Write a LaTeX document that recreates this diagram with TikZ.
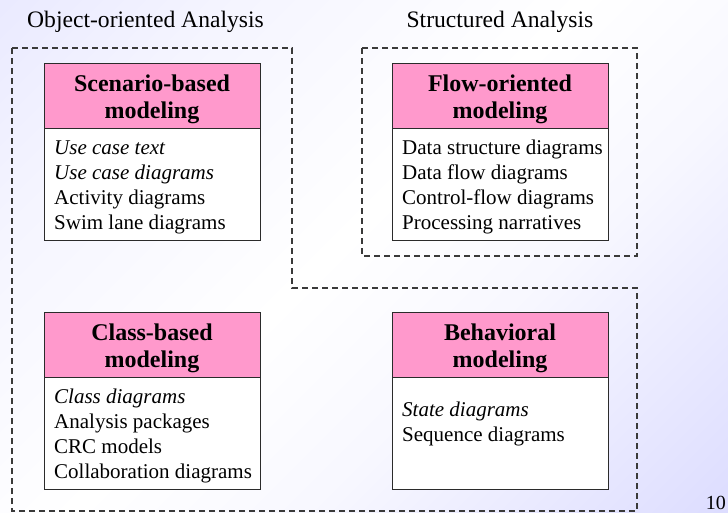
\documentclass[tikz,border=0pt]{standalone}
\usepackage{fontspec}
\setmainfont{Liberation Serif}

\definecolor{hdpink}{HTML}{FF99CC}
\definecolor{boxline}{HTML}{2B2B2B}
\definecolor{groupgray}{HTML}{3A3A3A}

% soft diagonal slide background: lavender corners, white middle band
\pgfdeclarehorizontalshading{slidebg}{100bp}{%
  rgb(0bp)=(0.87,0.87,1); rgb(28bp)=(0.96,0.96,1); rgb(48bp)=(1,1,1);
  rgb(62bp)=(0.97,0.97,1); rgb(100bp)=(0.80,0.80,1)}

\tikzset{
  hdbox/.style={draw=boxline, line width=1.4pt, fill=hdpink,
    minimum width=216pt, minimum height=64.5pt, inner sep=0pt, anchor=north west},
  bdbox/.style={draw=boxline, line width=1.4pt, fill=white,
    minimum width=216pt, minimum height=112pt, inner sep=0pt, anchor=north west},
  hdtext/.style={font=\fontsize{24}{27}\selectfont\bfseries, align=center,
    inner sep=0pt, anchor=north},
  bdtext/.style={font=\fontsize{21}{25}\selectfont, align=left,
    inner sep=0pt, anchor=north west},
  grouptitle/.style={font=\fontsize{23.6}{27}\selectfont, inner sep=0pt},
  groupline/.style={draw=groupgray, line width=1.2pt, dash pattern=on 6pt off 4pt},
}

\begin{document}
\begin{tikzpicture}[x=1pt, y=-1pt]
  \useasboundingbox (0,0) rectangle (728,512);
  \shade[shading=slidebg, shading angle=-45] (0,0) rectangle (728,512);

  % group titles
  \node[grouptitle, anchor=base west] (ootitle) at (27,27) {Object-oriented Analysis};
  \node[grouptitle, anchor=base] (satitle) at (500,27) {Structured Analysis};

  % group outlines
  \draw[groupline] (12,48) -- (292,48) -- (292,288) -- (637,288)
    -- (637,511) -- (12,511) -- cycle;
  \draw[groupline] (362,48) rectangle (637,256);

  % scenario-based modeling
  \node[hdbox] (schd) at (44,63) {};
  \node[bdbox] (scbd) at (44,127.5) {};
  \node[hdtext] (scht) at (152,72.1) {\strut Scenario-based\\modeling};
  \node[bdtext] (scbt) at (54,137) {\strut\textit{Use case text}\\\textit{Use case diagrams}\\Activity diagrams\\Swim lane diagrams};

  % flow-oriented modeling
  \node[hdbox] (flhd) at (392,63) {};
  \node[bdbox] (flbd) at (392,127.5) {};
  \node[hdtext] (flht) at (500,72.1) {\strut Flow-oriented\\modeling};
  \node[bdtext] (flbt) at (402,137) {\strut Data structure diagrams\\Data flow diagrams\\Control-flow diagrams\\Processing narratives};

  % class-based modeling
  \node[hdbox] (clhd) at (44,312) {};
  \node[bdbox] (clbd) at (44,376.5) {};
  \node[hdtext] (clht) at (152,321.1) {\strut Class-based\\modeling};
  \node[bdtext] (clbt) at (54,386) {\strut\textit{Class diagrams}\\Analysis packages\\CRC models\\Collaboration diagrams};

  % behavioral modeling
  \node[hdbox] (behd) at (392,312) {};
  \node[bdbox] (bebd) at (392,376.5) {};
  \node[hdtext] (beht) at (500,321.1) {\strut Behavioral\\modeling};
  \node[bdtext] (bebt) at (402,398.5) {\strut\textit{State diagrams}\\Sequence diagrams};

  % slide number in the lower right corner
  \node[font=\fontsize{20}{24}\selectfont, inner sep=0pt, anchor=base east] (pgno) at (726,509) {10};
\end{tikzpicture}
\end{document}
